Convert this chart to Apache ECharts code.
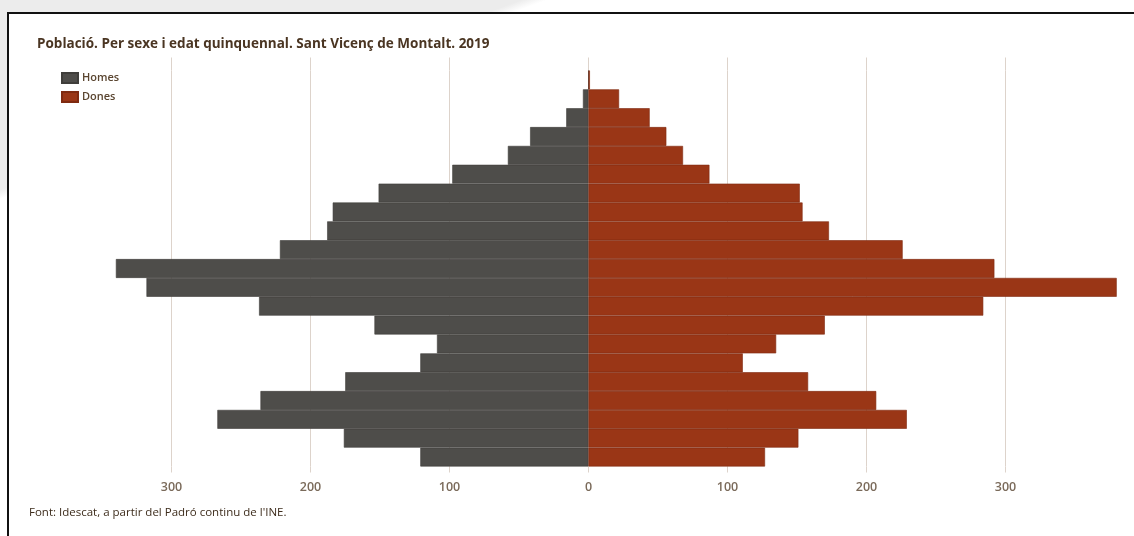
<!DOCTYPE html>
<html>
<head>
<meta charset="utf-8">
<script src="https://cdn.jsdelivr.net/npm/echarts@6/dist/echarts.min.js"></script>
<style>
  html, body { margin: 0; padding: 0; width: 1134px; height: 536px; overflow: hidden;
    background: linear-gradient(160deg, #ececec 0%, #ececec 20%, #ffffff 21%, #ffffff 60%, #ececec 61%); }
  #frame { position: absolute; left: 7px; top: 12px; width: 1140px; height: 540px;
    border: 2px solid #111; background: #fff; box-sizing: border-box; }
  #chart { position: absolute; left: 0; top: 0; width: 1134px; height: 536px; }
</style>
</head>
<body>
<div id="frame"></div>
<div id="chart"></div>
<script>
// Age groups, bottom (youngest) to top (oldest)
const categories = ['0-4','5-9','10-14','15-19','20-24','25-29','30-34','35-39','40-44','45-49',
  '50-54','55-59','60-64','65-69','70-74','75-79','80-84','85-89','90-94','95-99','100 i més'];
const homes = [121,176,267,236,175,121,109,154,237,318,340,222,188,184,151,98,58,42,16,4,0];
const dones = [127,151,229,207,158,111,135,170,284,380,292,226,173,154,152,87,68,56,44,22,1];
const tickValues = [-300,-200,-100,0,100,200,300];
const titleText = 'Població. Per sexe i edat quinquennal. Sant Vicenç de Montalt. 2019';
const sourceText = "Font: Idescat, a partir del Padró continu de l'INE.";

const gridColor = '#ddd3cb';
const fontFamily = '"Open Sans", sans-serif';
const chart = echarts.init(document.getElementById('chart'), null, { renderer: 'canvas' });
chart.setOption({
  animation: false,
  textStyle: { fontFamily: fontFamily },
  title: [
    { text: titleText, left: 37, top: 37, padding: 0,
      textStyle: { fontSize: 13.5, fontWeight: 'bold', color: '#4a3522', fontFamily: fontFamily } },
    { text: sourceText, left: 29, top: 507, padding: 0,
      textStyle: { fontSize: 11.5, fontWeight: 'normal', color: '#3d2c1c', fontFamily: fontFamily } }
  ],
  legend: {
    orient: 'vertical', left: 61, top: 72, padding: 0, itemWidth: 16, itemHeight: 10, itemGap: 7,
    icon: 'rect',
    textStyle: { fontSize: 11, fontWeight: 600, color: '#5a4530', fontFamily: fontFamily, padding: [0, 0, 0, -1] },
    data: ['Homes', 'Dones']
  },
  grid: { left: 60.3, right: 17.3, top: 70.5, bottom: 69.5, containLabel: false },
  xAxis: [
    {
      type: 'value', min: -380, max: 380, position: 'bottom',
      axisLine: { show: false },
      axisTick: { show: true, length: 6, lineStyle: { color: gridColor, width: 1 }, customValues: tickValues },
      axisLabel: { customValues: tickValues, margin: 14, fontSize: 12.5, fontWeight: 600, color: '#7a6a5a',
        formatter: v => String(Math.abs(v)) },
      splitLine: { show: true, lineStyle: { color: gridColor, width: 1 } }
    },
    {
      type: 'value', min: -380, max: 380, position: 'top',
      axisLine: { show: false },
      axisTick: { show: true, length: 13, lineStyle: { color: gridColor, width: 1 }, customValues: tickValues },
      axisLabel: { show: false },
      splitLine: { show: false }
    }
  ],
  yAxis: {
    type: 'category', data: categories,
    axisLine: { show: false }, axisTick: { show: false }, axisLabel: { show: false }
  },
  series: [
    {
      name: 'Homes', type: 'bar', xAxisIndex: 0,
      data: homes.map(v => -v),
      barGap: '-100%', barCategoryGap: '0%',
      itemStyle: { color: '#4e4d4a', borderColor: '#3f3e3b', borderWidth: 0.6 }
    },
    {
      name: 'Dones', type: 'bar', xAxisIndex: 0,
      data: dones,
      barGap: '-100%', barCategoryGap: '0%',
      itemStyle: { color: '#9a3616', borderColor: '#7f2a10', borderWidth: 0.6 }
    }
  ]
});
</script>
</body>
</html>
